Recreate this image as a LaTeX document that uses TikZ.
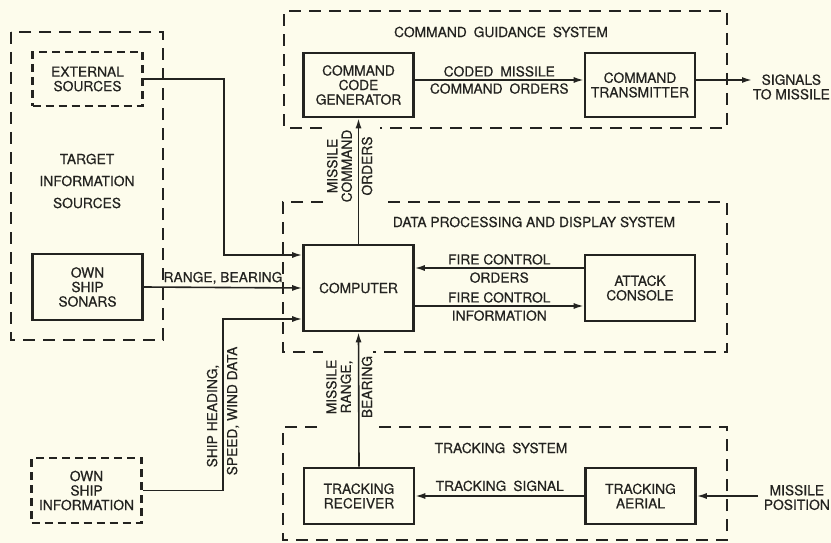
\documentclass[tikz,border=0pt]{standalone}
\usepackage{fontspec}
\setmainfont{TeX Gyre Heros}[FakeBold=0.5]
\usetikzlibrary{arrows.meta}
\definecolor{paper}{HTML}{FDFCEC}
\definecolor{ink}{HTML}{232320}
\begin{document}
\begin{tikzpicture}[x=1pt,y=-1pt,
    every node/.style={font=\fontsize{13.8}{14.5}\selectfont, text=ink, align=center},
    box/.style={draw=ink, line width=2.6pt, minimum width=110pt, inner sep=0pt},
    srcbox/.style={box, dash pattern=on 8pt off 5pt},
    grp/.style={draw=ink, line width=1.1pt, dash pattern=on 12pt off 8pt},
    arr/.style={draw=ink, line width=1.6pt, -{Latex[length=10pt,width=6pt]}},
    lbl/.style={inner sep=2.5pt}]
    \fill[paper] (0,0) rectangle (831,543);
    \useasboundingbox (0,0) rectangle (831,543);

    \draw[grp] (11,32) rectangle (163,340);
    \draw[grp] (322,128) -- (284,128) -- (284,11) -- (727,11) -- (727,128) -- (380,128);
    \draw[grp] (323,202) -- (283,202) -- (283,352) -- (323,352);
    \draw[grp] (388,202) -- (727,202) -- (727,352) -- (373,352);
    \draw[grp] (317,427) -- (283,427) -- (283,540) -- (727,540) -- (727,427) -- (377,427);

    \node (tis) at (87,181) [font=\fontsize{13.8}{22}\selectfont] {TARGET\\INFORMATION\\SOURCES};
    \node (cgs) at (501,32) {COMMAND\enspace GUIDANCE\enspace SYSTEM};
    \node (dps) at (534,222) {DATA PROCESSING AND DISPLAY SYSTEM};
    \node (trs) at (501,448) {TRACKING\enspace SYSTEM};

    \node[srcbox, minimum height=54pt] (ext) at (87.5,79) {EXTERNAL\\SOURCES};
    \node[box, minimum height=66pt] (sonar) at (87.5,287) {OWN\\SHIP\\SONARS};
    \node[srcbox, minimum height=65pt] (info) at (86.5,490.5) {OWN\\SHIP\\INFORMATION};
    \node[box, minimum height=86pt] (comp) at (358.5,288) {COMPUTER};
    \node[box, minimum height=64pt] (ccg) at (358.5,85) {COMMAND\\CODE\\GENERATOR};
    \node[box, minimum height=64pt] (ctx) at (640,85) {COMMAND\\TRANSMITTER};
    \node[box, minimum height=66pt] (atk) at (640,288) {ATTACK\\CONSOLE};
    \node[box, minimum height=56pt] (trx) at (359,496) {TRACKING\\RECEIVER};
    \node[box, minimum height=56pt] (tae) at (640.5,496) {TRACKING\\AERIAL};

    \coordinate (sig) at (752,80);
    \coordinate (pos) at (758,496);
    \node[anchor=east, inner sep=0pt] (sigt) at (830,87) {SIGNALS\\TO MISSILE};
    \node[anchor=east, inner sep=0pt] (post) at (830,497.5) {MISSILE\\POSITION};

    \draw[arr] (ext.east) -- ++(80,0) |- ([yshift=33pt]comp.west);
    \draw[arr] (sonar.east) -- node[lbl, above] {RANGE, BEARING} (comp.west);
    \draw[arr] (info.east) -- ++(80,0) |- ([yshift=-31pt]comp.west);
    \draw[arr] (comp.north) -- (ccg.south);
    \draw[arr] ([yshift=5pt]ccg.east) -- node[lbl, above] {CODED\enspace MISSILE}
        node[lbl, below] {COMMAND\enspace ORDERS} ([yshift=5pt]ctx.west);
    \draw[arr] ([yshift=5pt]ctx.east) -- (sig);
    \draw[arr] ([yshift=20pt]atk.west) -- node[lbl, above] {FIRE CONTROL}
        node[lbl, below, inner sep=3.5pt] {ORDERS} ([yshift=20pt]comp.east);
    \draw[arr] ([yshift=-18pt]comp.east) -- node[lbl, above] {FIRE CONTROL}
        node[lbl, below, inner sep=3.5pt] {INFORMATION} ([yshift=-18pt]atk.west);
    \draw[arr] (trx.north) -- (comp.south);
    \draw[arr] (tae.west) -- node[lbl, above, inner sep=4pt] {TRACKING\enspace SIGNAL} (trx.east);
    \draw[arr] (pos) -- (tae.east);

    \node[rotate=90] (mco) at (339.5,166) {MISSILE\\COMMAND};
    \node[rotate=90] (mcr) at (367,166) {ORDERS};
    \node[rotate=90] (mrb) at (339.5,387) {MISSILE\\RANGE,};
    \node[rotate=90] (mrc) at (367,387) {BEARING};
    \node[rotate=90] (shd) at (213,416) {SHIP HEADING,};
    \node[rotate=90] (swd) at (233,411) {SPEED, WIND DATA};
\end{tikzpicture}
\end{document}
